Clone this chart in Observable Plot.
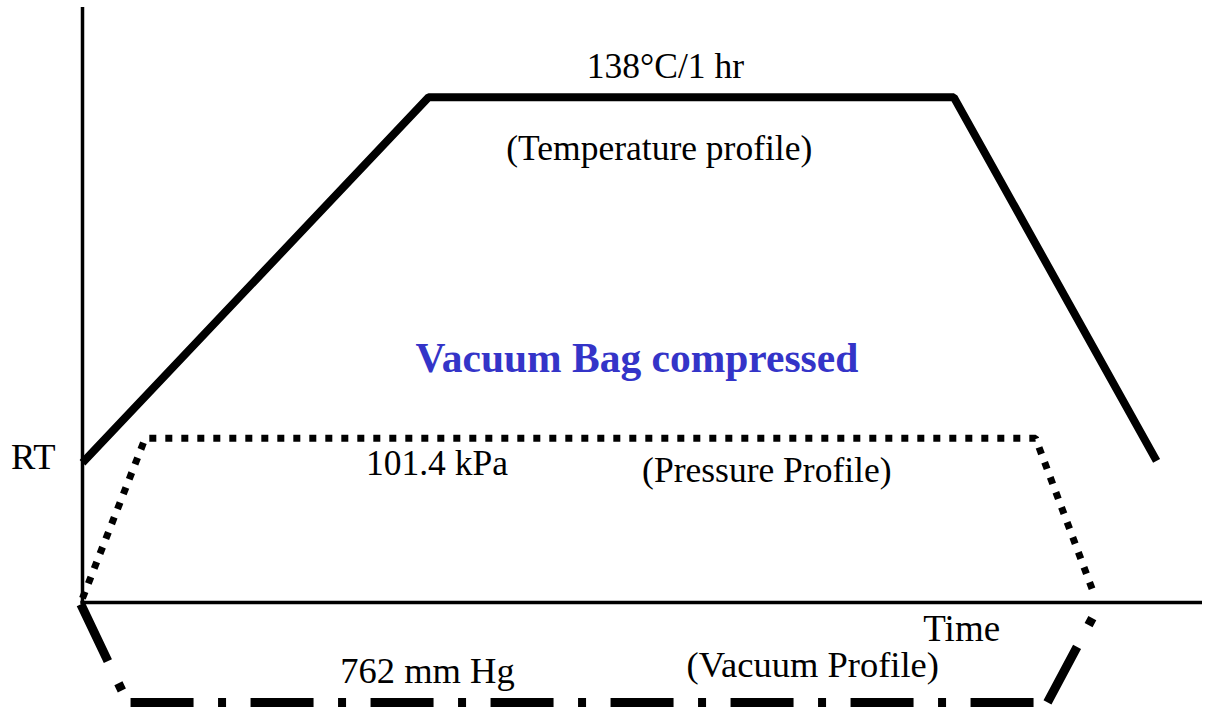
<!DOCTYPE html>
<html><head><meta charset="utf-8">
<script src="https://cdn.jsdelivr.net/npm/d3@7"></script>
<script src="https://cdn.jsdelivr.net/npm/@observablehq/plot@0.6"></script>
<style>html,body{margin:0;padding:0;background:#fff;overflow:hidden} svg{display:block}</style>
</head><body><div id="chart"></div>
<script>
// Schematic cure cycle (arbitrary time / level units)
const axisTime = [0, 100];
const axisLevel = [0, 100];

const tempTime = [0, 30.9, 77.8, 95.9];
const tempLevel = [23.5, 84.9, 84.9, 23.8];

const pressureTime = [0, 5.6, 85.1, 90.4];
const pressureLevel = [0.7, 27.6, 27.6, 1.0];

// vacuum profile: three strokes (down-ramp, hold, up-ramp)
const vacuumStroke = ["down", "down", "hold", "hold", "up", "up"];
const vacuumTime  = [-0.15, 4.02, 4.29, 86.16, 86.16, 90.54];
const vacuumLevel = [-0.3, -16.8, -16.8, -16.8, -16.8, -1.3];

const labelText  = ["138°C/1 hr", "(Temperature profile)", "RT", "101.4 kPa", "(Pressure Profile)", "Time", "762 mm Hg", "(Vacuum Profile)"];
const labelTime  = [52.05, 51.5, -4.4, 31.65, 61.1, 78.5, 30.8, 65.2];
const labelLevel = [88.2, 74.3, 22.5, 21.5, 20.3, -6.5, -13.6, -12.6];
const labelSize  = [35.5, 35.5, 36.5, 35.5, 35.5, 37, 36.5, 36.5];

const centerText = ["Vacuum Bag compressed"];
const centerTime = [49.5];
const centerLevel = [38.8];

const temp = tempTime.map((x, i) => ({x, y: tempLevel[i]}));
const pressure = pressureTime.map((x, i) => ({x, y: pressureLevel[i]}));
const vacuum = vacuumTime.map((x, i) => ({x, y: vacuumLevel[i], s: vacuumStroke[i]}));
const labels = labelText.map((t, i) => ({t, x: labelTime[i], y: labelLevel[i], size: labelSize[i]}));
const center = centerText.map((t, i) => ({t, x: centerTime[i], y: centerLevel[i]}));

const font = "'Liberation Serif', 'Times New Roman', serif";

const chart = Plot.plot({
  width: 1205,
  height: 708,
  margin: 0,
  style: {background: "#fff", fontFamily: font},
  x: {domain: [0, 100], range: [82, 1202], axis: null},
  y: {domain: [0, 100], range: [602, 7], axis: null},
  marks: [
    Plot.ruleX([axisTime[0]], {y1: axisLevel[0] - 0.15, y2: axisLevel[1], stroke: "#000", strokeWidth: 3.5}),
    Plot.ruleY([axisLevel[0]], {x1: axisTime[0] - 0.15, x2: axisTime[1], stroke: "#000", strokeWidth: 3.5}),
    Plot.line(temp, {x: "x", y: "y", stroke: "#000", strokeWidth: 8, strokeLinejoin: "miter", strokeLinecap: "butt"}),
    Plot.line(pressure, {x: "x", y: "y", stroke: "#000", strokeWidth: 7, strokeDasharray: "7,9", strokeLinecap: "butt", strokeLinejoin: "miter"}),
    Plot.line(vacuum, {x: "x", y: "y", z: "s", stroke: "#000", strokeWidth: 9, strokeDasharray: "63,24.5,8,24.5", strokeLinecap: "butt", strokeLinejoin: "miter"}),
    ...labels.map(d => Plot.text([d], {x: "x", y: "y", text: "t", fontSize: d.size, fontFamily: font, fill: "#000", textAnchor: "middle", lineAnchor: "bottom"})),
    Plot.text(center, {x: "x", y: "y", text: "t", fontSize: 41.5, fontWeight: "bold", fontFamily: font, fill: "#3434c8", textAnchor: "middle", lineAnchor: "bottom"})
  ]
});
document.getElementById("chart").appendChild(chart);
</script>
</body></html>
